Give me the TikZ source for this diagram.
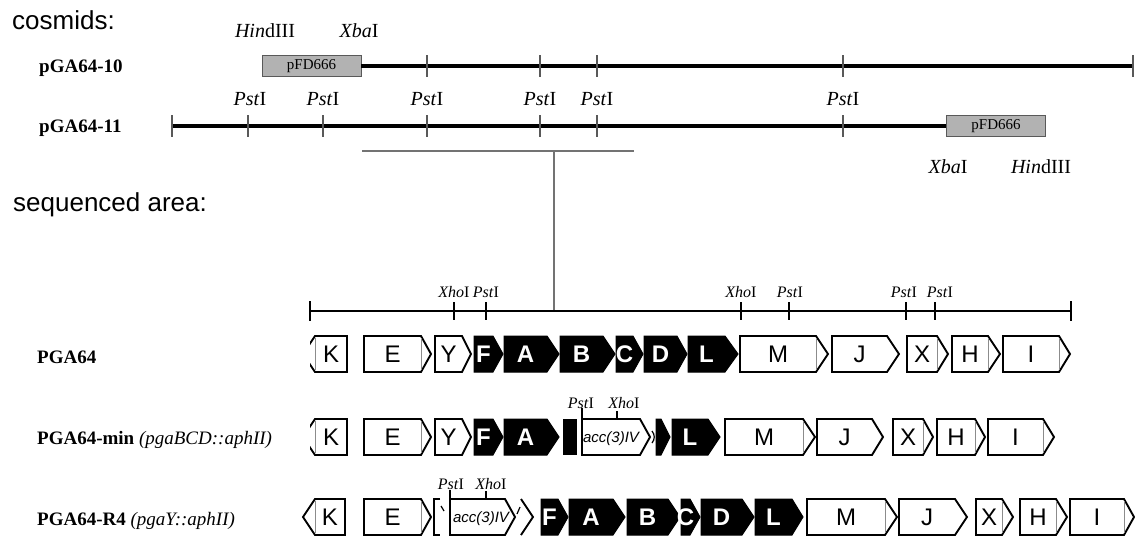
\documentclass[tikz,border=0pt]{standalone}
\usepackage{fontspec}
\setmainfont{Liberation Serif}
\newfontfamily\arialf{Liberation Sans}
\newcommand\wgene[6]{%
  \draw[genew] (#2,#5-18) -- (#3,#5-18) -- (#4,#5) -- (#3,#5+18) -- (#2,#5+18) -- cycle;
  \node[glabw] (#1) at ({(#2+#3)/2},#5+8.5) {#6};}
\newcommand\bgene[6]{%
  \draw[geneb] (#2,#5-18) -- (#3,#5-18) -- (#4,#5) -- (#3,#5+18) -- (#2,#5+18) -- cycle;
  \node[glabb] (#1) at ({(#2+#3)/2},#5+8.5) {#6};}
\newcommand\gsep[2]{\draw[gtick] (#1,#2-16) -- (#1,#2+16);}
\newcommand\kgene[3]{%
  \draw[genew] (#3,#2-18) -- (315,#2-18) -- (303,#2) -- (315,#2+18) -- (#3,#2+18) -- cycle;
  \node[glabw] (#1) at ({(315+#3)/2},#2+8.5) {K};}
\begin{document}
\begin{tikzpicture}[x=1pt,y=-1pt,
  cosline/.style={line width=3.2pt,black},
  costick/.style={line width=1.1pt,black!65},
  fdbox/.style={draw=black!65,line width=0.9pt,fill=black!30,minimum width=99pt,minimum height=21pt,inner sep=0pt,font=\fontsize{15}{17}\selectfont},
  bracket/.style={line width=1.6pt,black!55},
  seqline/.style={line width=1.8pt,black},
  seqtick/.style={line width=2.2pt,black},
  genew/.style={draw=black,line width=1.9pt,fill=white,line join=miter},
  geneb/.style={draw=black,line width=1pt,fill=black,line join=miter},
  gtick/.style={line width=0.8pt,black!45},
  glabw/.style={anchor=base,inner sep=0pt,font=\arialf\fontsize{24}{26}\selectfont},
  glabb/.style={anchor=base,inner sep=0pt,text=white,font=\arialf\bfseries\fontsize{24}{26}\selectfont},
  acclab/.style={anchor=base,inner sep=0pt,font=\arialf\itshape\fontsize{15}{17}\selectfont},
  bigsite/.style={anchor=base,inner sep=0pt,font=\fontsize{20}{22}\selectfont},
  smallsite/.style={anchor=base,inner sep=0pt,font=\fontsize{16}{18}\selectfont},
  heading/.style={anchor=base west,inner sep=0pt,font=\arialf\fontsize{26}{30}\selectfont},
  coslab/.style={anchor=base west,inner sep=0pt,font=\bfseries\fontsize{19}{22}\selectfont},
  strainlab/.style={anchor=base west,inner sep=0pt,font=\fontsize{19}{22}\selectfont},
  tinymark/.style={line width=1.2pt,black}
]
\useasboundingbox (0,0) rectangle (1135,536);

% headings
\node[heading] (hcos) at (12,29) {cosmids:};
\node[heading] (hseq) at (13,211) {sequenced area:};

% cosmid pGA64-10
\node[coslab] (c10) at (39,72) {pGA64-10};
\node[fdbox] (fd1) at (311.5,66) {pFD666};
\coordinate (e10) at (1134,66);
\draw[cosline] (fd1.east) -- (e10);
\foreach \x in {427,540,597,843,1133} \draw[costick] (\x,55) -- (\x,77);
\node[bigsite] (h1) at (265,37) {\textit{Hin}dIII};
\node[bigsite] (x1) at (359,37) {\textit{Xba}I};

% cosmid pGA64-11
\node[coslab] (c11) at (39,132) {pGA64-11};
\coordinate (s11) at (172,126);
\node[fdbox] (fd2) at (996,126) {pFD666};
\draw[cosline] (s11) -- (fd2.west);
\foreach \x in {172,248,323,427,540,597,843} \draw[costick] (\x,115) -- (\x,137);
\foreach \x/\n in {250/1,323/2,427/3,540/4,597/5,843/6}
  \node[bigsite] (p\n) at (\x,105) {\textit{Pst}I};
\node[bigsite] (x2) at (948,173) {\textit{Xba}I};
\node[bigsite] (h2) at (1041,173) {\textit{Hin}dIII};

% bracket
\coordinate (bl) at (362,151);
\coordinate (br) at (634,151);
\coordinate (bt) at (554,151);
\coordinate (bb) at (554,311);
\draw[bracket] (bl) -- (br);
\draw[bracket] (bt) -- (bb);

% sequenced area line
\coordinate (sl) at (310,311);
\coordinate (sr) at (1071,311);
\draw[seqline] (sl) -- (sr);
\foreach \x in {310,1071} \draw[seqtick] (\x,301) -- (\x,321);
\foreach \x in {454,486,741,789,906,935} \draw[seqtick] (\x,302) -- (\x,320);
\node[smallsite] (sx1) at (454,297) {\textit{Xho}I};
\node[smallsite] (sp1) at (486,297) {\textit{Pst}I};
\node[smallsite] (sx2) at (741,297) {\textit{Xho}I};
\node[smallsite] (sp2) at (790,297) {\textit{Pst}I};
\node[smallsite] (sp3) at (904,297) {\textit{Pst}I};
\node[smallsite] (sp4) at (940,297) {\textit{Pst}I};

% strain labels
\node[strainlab] (r1) at (37,363) {\textbf{PGA64}};
\node[strainlab] (r2) at (37,444) {\textbf{PGA64-min} \textit{(pgaBCD::aphII)}};
\node[strainlab] (r3) at (37,525) {\textbf{PGA64-R4} \textit{(pgaY::aphII)}};

% ---------- row 1 ----------
\begin{scope}
\clip (310,300) rectangle (1135,536);
\kgene{k1}{354}{347}
\end{scope}
\gsep{315}{354}
\wgene{e1}{364}{421}{431}{354}{E}\gsep{421}{354}
\wgene{y1}{435}{462}{471}{354}{Y}
\bgene{f1}{474}{493}{503}{354}{F}
\bgene{a1}{504}{547}{559}{354}{A}
\bgene{b1}{560}{603}{615}{354}{B}
\bgene{cc1}{616}{633}{643}{354}{C}
\bgene{d1}{644}{677}{687}{354}{D}
\bgene{l1}{688}{725}{738}{354}{L}
\wgene{m1}{740}{816}{828}{354}{M}\gsep{816}{354}
\wgene{j1}{832}{887}{899}{354}{J}
\wgene{xx1}{907}{937}{948}{354}{X}\gsep{937}{354}
\wgene{hh1}{952}{988}{1000}{354}{H}\gsep{988}{354}
\wgene{i1}{1003}{1059}{1070}{354}{I}\gsep{1059}{354}

% ---------- row 2 ----------
\begin{scope}
\clip (310,400) rectangle (1135,536);
\kgene{k2}{437}{347}
\end{scope}
\gsep{315}{437}
\wgene{e2}{364}{421}{431}{437}{E}\gsep{421}{437}
\wgene{y2}{435}{462}{471}{437}{Y}
\bgene{f2}{474}{493}{503}{437}{F}
\bgene{a2}{504}{547}{559}{437}{A}
\fill (563,419) rectangle (577,455);
\draw[genew] (582,419) -- (640,419) -- (650,437) -- (640,455) -- (582,455) -- cycle;
\node[acclab] (acc2) at (611,442) {acc(3)IV};
\draw[seqtick] (582,408) -- (582,455);
\draw[seqtick] (617,411) -- (617,419);
\node[smallsite] (rp2) at (581,408) {\textit{Pst}I};
\node[smallsite] (rx2) at (624,408) {\textit{Xho}I};
\draw[tinymark] (652,431) to[bend left=40] (652,443);
\bgene{d2}{656}{661}{670}{437}{}
\bgene{l2}{672}{708}{720}{437}{L}
\wgene{m2}{725}{803}{815}{437}{M}\gsep{803}{437}
\wgene{j2}{817}{872}{883}{437}{J}
\wgene{xx2}{893}{923}{933}{437}{X}\gsep{923}{437}
\wgene{hh2}{937}{975}{985}{437}{H}\gsep{975}{437}
\wgene{i2}{988}{1043}{1054}{437}{I}\gsep{1043}{437}

% ---------- row 3 ----------
\kgene{k3}{517}{345}
\gsep{315}{517}
\wgene{e3}{364}{421}{431}{517}{E}\gsep{421}{517}
\draw[genew,fill=none] (440,499) -- (434,499) -- (434,535) -- (440,535);
\draw[genew,fill=none] (521,499) -- (533,517) -- (521,535);
\draw[tinymark] (441,506) -- (444,511);
\draw[tinymark] (517,514) -- (520,507);
\draw[genew] (450,499) -- (505,499) -- (515,517) -- (505,535) -- (450,535) -- cycle;
\node[acclab] (acc3) at (481,522) {acc(3)IV};
\draw[seqtick] (450,490) -- (450,535);
\draw[seqtick] (486,491) -- (486,499);
\node[smallsite] (rp3) at (451,489) {\textit{Pst}I};
\node[smallsite] (rx3) at (491,489) {\textit{Xho}I};
\bgene{f3}{541}{558}{568}{517}{F}
\bgene{a3}{569}{613}{625}{517}{A}
\bgene{b3}{627}{668}{680}{517}{B}
\bgene{cc3}{681}{690}{700}{517}{C}
\bgene{d3}{701}{742}{754}{517}{D}
\bgene{l3}{755}{792}{803}{517}{L}
\wgene{m3}{807}{885}{897}{517}{M}\gsep{885}{517}
\wgene{j3}{899}{955}{967}{517}{J}
\wgene{xx3}{976}{1002}{1013}{517}{X}\gsep{1002}{517}
\wgene{hh3}{1020}{1056}{1067}{517}{H}\gsep{1056}{517}
\wgene{i3}{1070}{1124}{1134}{517}{I}\gsep{1124}{517}
\end{tikzpicture}
\end{document}
